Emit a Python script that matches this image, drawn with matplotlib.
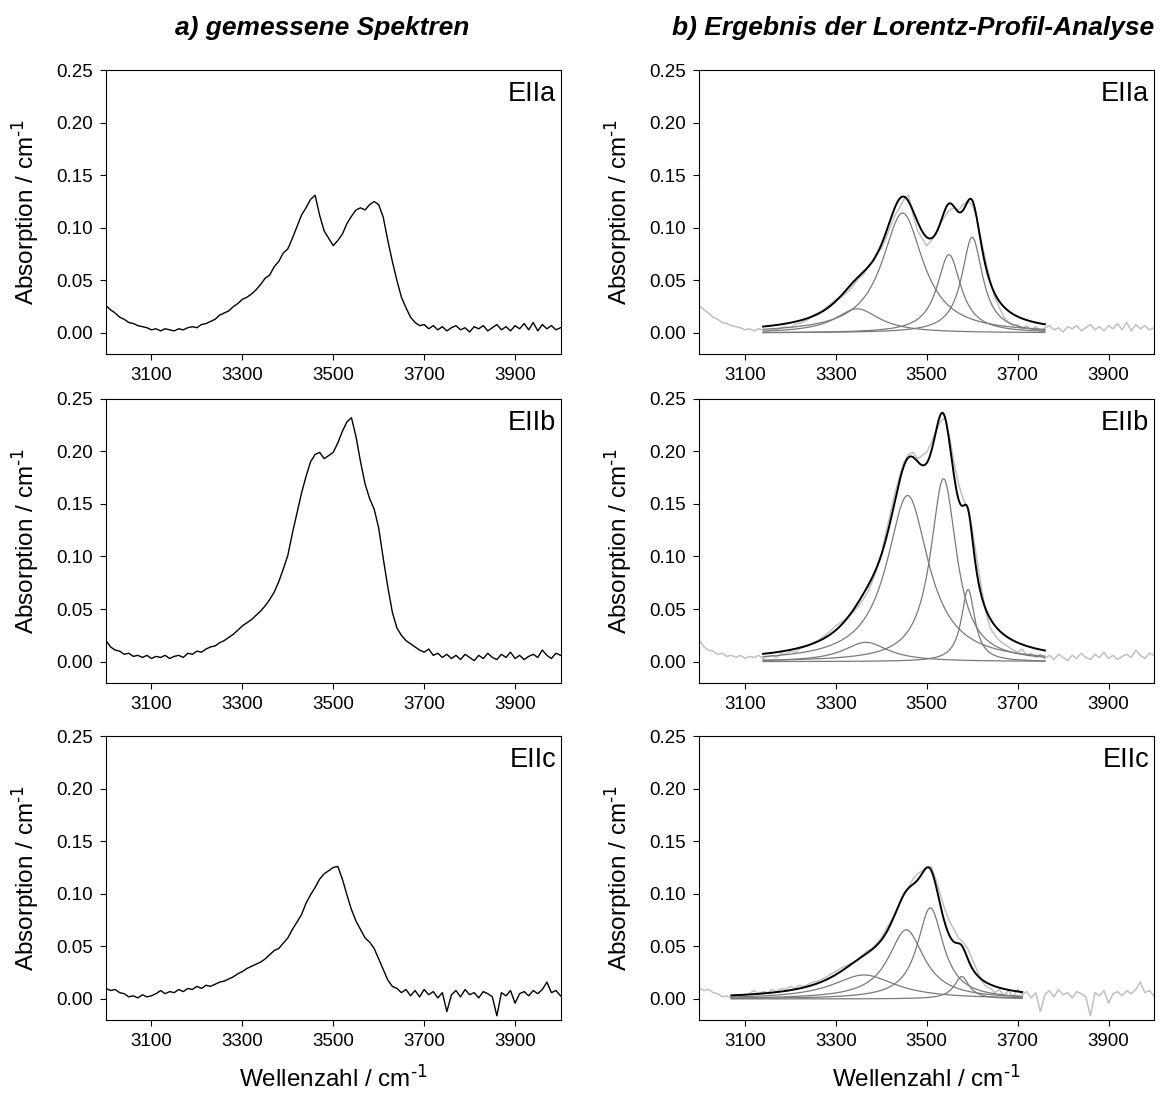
import numpy as np
import matplotlib
matplotlib.use("Agg")
import matplotlib.pyplot as plt

plt.rcParams['font.family'] = ['Liberation Sans', 'DejaVu Sans']
plt.rcParams['mathtext.default'] = 'regular'
plt.rcParams['axes.unicode_minus'] = False

# Wellenzahl-Raster der gemessenen Spektren (cm-1)
wn = np.arange(3000, 4001, 10)

# gemessene Spektren
spec_a = [0.026, 0.022, 0.019, 0.015, 0.013, 0.010, 0.009, 0.007, 0.006, 0.005,
          0.003, 0.004, 0.002, 0.004, 0.003, 0.002, 0.004, 0.003, 0.005, 0.006,
          0.005, 0.008, 0.009, 0.011, 0.013, 0.017, 0.019, 0.021, 0.025, 0.028,
          0.032, 0.034, 0.037, 0.041, 0.046, 0.052, 0.055, 0.063, 0.068, 0.076,
          0.080, 0.090, 0.101, 0.112, 0.119, 0.127, 0.131, 0.112, 0.097, 0.090,
          0.083, 0.088, 0.094, 0.104, 0.111, 0.117, 0.119, 0.117, 0.122, 0.125,
          0.122, 0.110, 0.088, 0.068, 0.050, 0.034, 0.024, 0.015, 0.010, 0.007,
          0.008, 0.004, 0.007, 0.003, 0.006, 0.002, 0.005, 0.007, 0.003, 0.005,
          0.001, 0.006, 0.004, 0.007, 0.002, 0.005, 0.008, 0.003, 0.006, 0.002,
          0.007, 0.004, 0.009, 0.003, 0.010, 0.002, 0.008, 0.004, 0.007, 0.003,
          0.005]
spec_b = [0.020, 0.014, 0.011, 0.010, 0.007, 0.008, 0.005, 0.006, 0.004, 0.006,
          0.003, 0.005, 0.004, 0.006, 0.003, 0.005, 0.006, 0.004, 0.008, 0.007,
          0.010, 0.009, 0.012, 0.014, 0.015, 0.018, 0.020, 0.023, 0.026, 0.030,
          0.034, 0.037, 0.040, 0.044, 0.048, 0.053, 0.059, 0.066, 0.076, 0.088,
          0.101, 0.122, 0.141, 0.160, 0.176, 0.190, 0.197, 0.199, 0.193, 0.196,
          0.199, 0.208, 0.219, 0.228, 0.232, 0.214, 0.190, 0.169, 0.155, 0.145,
          0.127, 0.098, 0.071, 0.047, 0.032, 0.025, 0.020, 0.017, 0.014, 0.011,
          0.009, 0.012, 0.006, 0.008, 0.004, 0.007, 0.003, 0.006, 0.002, 0.007,
          0.004, 0.001, 0.006, 0.003, 0.008, 0.004, 0.002, 0.007, 0.004, 0.009,
          0.003, 0.006, 0.002, 0.005, 0.007, 0.004, 0.011, 0.006, 0.003, 0.008,
          0.006]
spec_c = [0.010, 0.008, 0.009, 0.006, 0.005, 0.002, 0.003, 0.001, 0.004, 0.002,
          0.003, 0.005, 0.008, 0.005, 0.007, 0.006, 0.009, 0.007, 0.010, 0.009,
          0.012, 0.010, 0.013, 0.012, 0.014, 0.016, 0.017, 0.019, 0.021, 0.024,
          0.026, 0.029, 0.031, 0.033, 0.035, 0.038, 0.042, 0.046, 0.048, 0.053,
          0.058, 0.066, 0.073, 0.080, 0.091, 0.099, 0.106, 0.114, 0.119, 0.122,
          0.125, 0.126, 0.114, 0.099, 0.085, 0.074, 0.066, 0.058, 0.054, 0.048,
          0.038, 0.028, 0.018, 0.012, 0.010, 0.006, 0.009, 0.003, 0.008, 0.002,
          0.009, 0.004, 0.007, 0.001, 0.006, -0.012, 0.004, 0.008, 0.002, 0.009,
          0.004, 0.006, 0.001, 0.007, 0.005, 0.002, -0.016, 0.006, 0.003, 0.008,
          -0.004, 0.005, 0.007, 0.003, 0.008, 0.005, 0.009, 0.016, 0.006, 0.008,
          0.003]

# Lorentz-Komponenten: Zentrum, Halbwertsbreite (HWHM), Hoehe
cent_a = [3347, 3447, 3549, 3600]
hwhm_a = [60, 55, 32, 28]
amp_a = [0.023, 0.114, 0.0745, 0.091]
range_a = (3140, 3760)

cent_b = [3366, 3458, 3537, 3591]
hwhm_b = [60, 56, 35, 18]
amp_b = [0.0184, 0.158, 0.174, 0.0687]
range_b = (3140, 3760)

cent_c = [3362, 3455, 3508, 3577]
hwhm_c = [85, 48, 35, 20]
amp_c = [0.0228, 0.0657, 0.0866, 0.0213]
range_c = (3070, 3710)

names = ['EIIa', 'EIIb', 'EIIc']
spectra = [spec_a, spec_b, spec_c]
fits = [(cent_a, hwhm_a, amp_a, range_a),
        (cent_b, hwhm_b, amp_b, range_b),
        (cent_c, hwhm_c, amp_c, range_c)]


def lorentz(x, c, w, a):
    return a / (1 + ((x - c) / w) ** 2)


def style_axes(ax, name):
    ax.set_xlim(3000, 4000)
    ax.set_ylim(-0.02, 0.25)
    ax.set_xticks([3100, 3300, 3500, 3700, 3900])
    ax.set_yticks([0.0, 0.05, 0.10, 0.15, 0.20, 0.25])
    ax.set_yticklabels(['%.2f' % t for t in ax.get_yticks()])
    ax.tick_params(direction='out', length=4.5, width=0.8, labelsize=13.5, pad=5)
    for s in ax.spines.values():
        s.set_linewidth(0.8)
    ax.set_ylabel(r'Absorption / cm$^{\text{-1}}$', fontsize=17.5)
    ax.yaxis.set_label_coords(-0.143, 0.5)
    ax.text(0.99, 0.96, name, transform=ax.transAxes, ha='right', va='top', fontsize=19.5)


fig = plt.figure(figsize=(11.6, 10.93), dpi=100)

bottoms = [0.6761, 0.3754, 0.0668]
h = 0.2598
for i in range(3):
    axl = fig.add_axes([0.0914, bottoms[i], 0.3918, h])
    axr = fig.add_axes([0.6030, bottoms[i], 0.3918, h])

    axl.plot(wn, spectra[i], color='black', lw=1.0)
    style_axes(axl, names[i])

    axr.plot(wn, spectra[i], color='#c0c0c0', lw=1.1)
    cent, hw, amp, rng = fits[i]
    xf = np.arange(rng[0], rng[1] + 1, 2)
    total = np.zeros(len(xf))
    for c, w, a in zip(cent, hw, amp):
        comp = lorentz(xf, c, w, a)
        total = total + comp
        axr.plot(xf, comp, color='#7a7a7a', lw=0.9)
    axr.plot(xf, total, color='black', lw=1.4)
    style_axes(axr, names[i])

    if i == 2:
        for ax in (axl, axr):
            ax.set_xlabel(r'Wellenzahl / cm$^{\text{-1}}$', fontsize=17.5)
            ax.xaxis.set_label_coords(0.5, -0.16)

fig.text(0.278, 1 - 28 / 1093, 'a) gemessene Spektren', ha='center', va='center',
         fontsize=19, fontweight='bold', fontstyle='italic')
fig.text(0.787, 1 - 28 / 1093, 'b) Ergebnis der Lorentz-Profil-Analyse', ha='center', va='center',
         fontsize=19, fontweight='bold', fontstyle='italic')

fig.savefig('out.png', dpi=100)
